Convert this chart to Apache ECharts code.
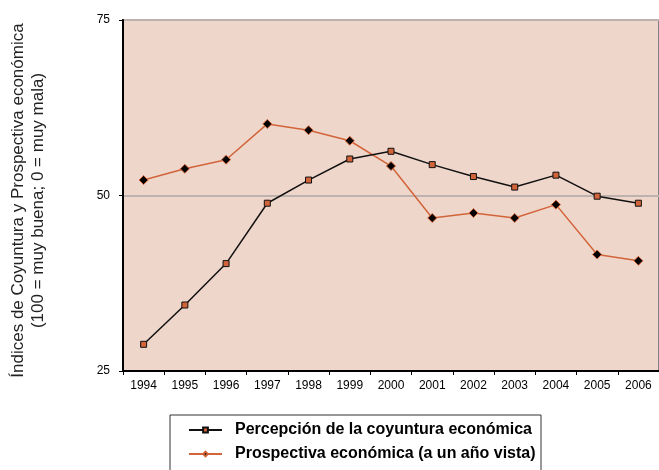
<!DOCTYPE html>
<html>
<head>
<meta charset="utf-8">
<script src="https://cdn.jsdelivr.net/npm/echarts@6/dist/echarts.min.js"></script>
<style>
  html, body { margin: 0; padding: 0; background: #ffffff; }
  #chart { width: 659px; height: 470px; }
</style>
</head>
<body>
<div id="chart"></div>
<script>
var years = ['1994', '1995', '1996', '1997', '1998', '1999', '2000', '2001', '2002', '2003', '2004', '2005', '2006']
var percepcion = [28.8, 34.4, 40.3, 48.9, 52.2, 55.2, 56.3, 54.4, 52.7, 51.2, 52.9, 49.9, 48.9]
var prospectiva = [52.2, 53.8, 55.1, 60.2, 59.3, 57.8, 54.2, 46.8, 47.5, 46.8, 48.7, 41.6, 40.7]
var seriesNames = ['Percepción de la coyuntura económica', 'Prospectiva económica (a un año vista)']

var myChart = echarts.init(document.getElementById('chart'))
myChart.setOption({
  animation: false,
  textStyle: { fontFamily: 'Liberation Sans, Arial, sans-serif' },
  grid: {
    left: 121,
    top: 20,
    right: -6,
    bottom: 99,
    show: true,
    backgroundColor: '#efd6ca',
    borderColor: '#808080',
    borderWidth: 2
  },
  graphic: [{
    type: 'rect',
    shape: { x: 170, y: 415, width: 371, height: 70 },
    style: { fill: '#ffffff', stroke: '#333333', lineWidth: 1 },
    z: 0
  }],
  legend: {
    orient: 'vertical',
    left: 183,
    top: 417,
    itemWidth: 33,
    itemHeight: 6,
    itemGap: 8,
    data: seriesNames,
    textStyle: { fontSize: 16, fontWeight: 'bold', color: '#000000', padding: [0, 0, 0, 8] }
  },
  xAxis: {
    type: 'category',
    data: years,
    boundaryGap: true,
    axisLine: { lineStyle: { color: '#000000', width: 2 } },
    axisTick: { show: true, inside: false, length: 4, lineStyle: { color: '#000000' } },
    axisLabel: { color: '#000000', fontSize: 12, margin: 9 }
  },
  yAxis: {
    type: 'value',
    min: 25,
    max: 75,
    interval: 25,
    name: 'Índices de Coyuntura y Prospectiva económica\n(100 = muy buena; 0 = muy mala)',
    nameLocation: 'middle',
    nameGap: 75,
    nameTextStyle: { fontSize: 17, color: '#222222', lineHeight: 20, padding: [0, 0, 0, -10] },
    axisLine: { show: true, lineStyle: { color: '#000000', width: 2 } },
    axisTick: { show: true, length: 4, lineStyle: { color: '#000000' } },
    axisLabel: { color: '#000000', fontSize: 12, margin: 13 },
    splitLine: { show: true, lineStyle: { color: '#bdb2ad', width: 2 } }
  },
  series: [
    {
      name: seriesNames[0],
      type: 'line',
      data: percepcion,
      symbol: 'rect',
      symbolSize: 6,
      lineStyle: { color: '#111111', width: 1.5 },
      itemStyle: { color: '#d2643a', borderColor: '#111111', borderWidth: 1 },
      z: 3
    },
    {
      name: seriesNames[1],
      type: 'line',
      data: prospectiva,
      symbol: 'diamond',
      symbolSize: 9,
      lineStyle: { color: '#d2643a', width: 1.5 },
      itemStyle: { color: '#000000', borderColor: '#d2643a', borderWidth: 1 },
      z: 2
    }
  ]
})
</script>
</body>
</html>
